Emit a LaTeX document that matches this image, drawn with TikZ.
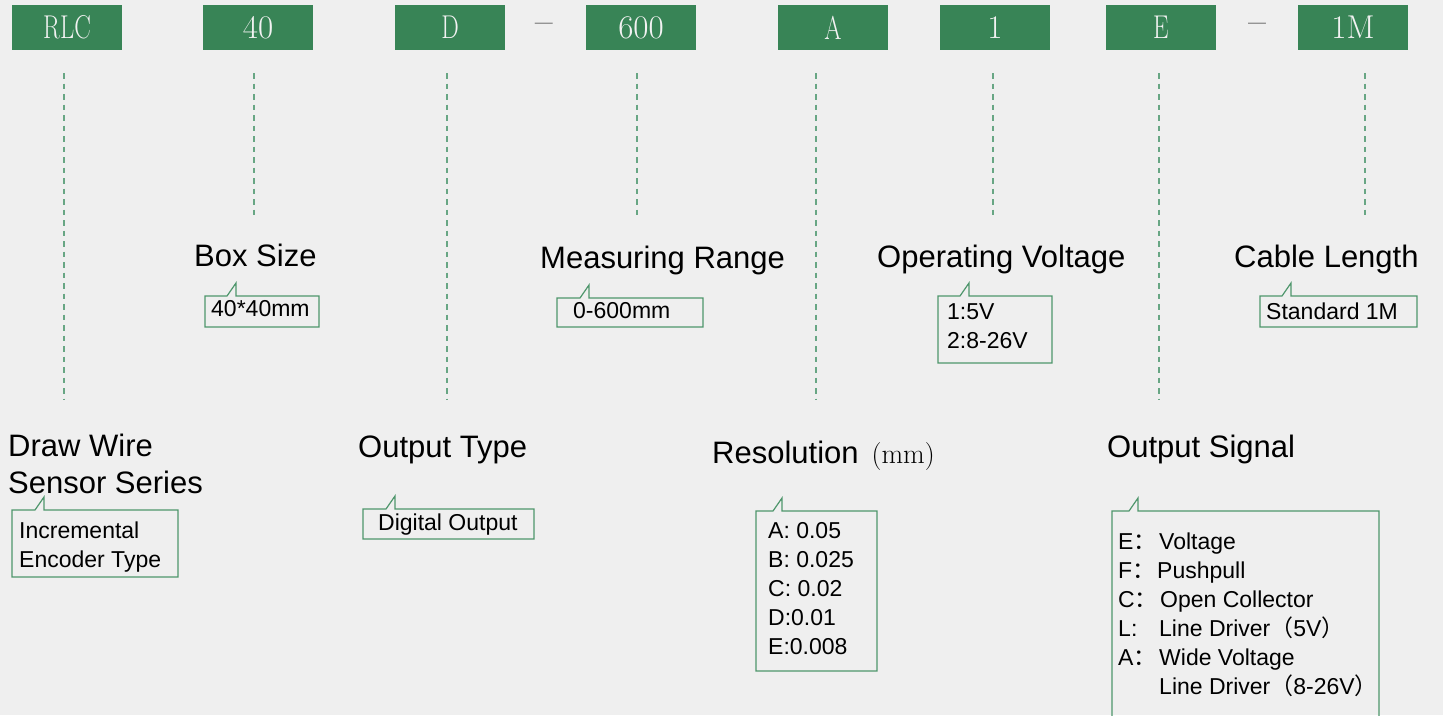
\documentclass[tikz,border=0pt]{standalone}
\usepackage{fontspec}
\usepackage{graphicx}
\newfontfamily\arial{Liberation Sans}
\newfontfamily\cjk{Noto Sans CJK SC}

\definecolor{pagebg}{RGB}{239,239,239}
\definecolor{codegreen}{RGB}{56,132,86}
\definecolor{guidegreen}{RGB}{104,166,132}
\definecolor{taggreen}{RGB}{78,150,108}
\definecolor{codetext}{RGB}{242,242,242}
\definecolor{dashgray}{RGB}{120,120,120}

% narrow the letters of a code, digits keep their width
\newcommand{\codelabel}[2][0.75]{\scalebox{#1}[1]{#2}}

\tikzset{
    codebox/.style={fill=codegreen, minimum width=110, minimum height=45, inner sep=0,
        text=codetext, font=\rmfamily\fontsize{33}{33}\selectfont},
    sepdash/.style={inner sep=0, text=dashgray, font=\rmfamily\bfseries\fontsize{32}{32}\selectfont},
    guide/.style={guidegreen, line width=1.6pt, dash pattern=on 5.5pt off 5pt},
    title/.style={anchor=base west, inner sep=0, align=left, text=black,
        font=\arial\fontsize{31}{37}\selectfont},
    tagtext/.style={anchor=base west, inner sep=0, align=left, text=black,
        font=\arial\fontsize{23}{29}\selectfont},
    tagline/.style={taggreen, line width=1.2pt, line join=miter}
}

% outline of a label box: left, top, right, bottom, x of the notch
\newcommand{\tagoutline}[5]{%
    \draw[tagline] (#5,#2) -- ++(9,-13) -- ++(0,13) -- (#3,#2) -- (#3,#4) -- (#1,#4) -- (#1,#2) -- cycle;}

\begin{document}
\begin{tikzpicture}[x=1pt, y=-1pt]
    \clip (0,0) rectangle (1443,715);
    \fill[pagebg] (0,0) rectangle (1443,715);

    % Draw the code boxes
    \node[codebox] (rlc) at (67,27.5) {\codelabel{RLC}};
    \node[codebox] (size) at (258,27.5) {\codelabel[1]{40}};
    \node[codebox] (otype) at (450,27.5) {\codelabel{D}};
    \node[sepdash] (dashA) at (544,28) {–};
    \node[codebox] (range) at (641,27.5) {\codelabel[1]{600}};
    \node[codebox] (res) at (833,27.5) {\codelabel{A}};
    \node[codebox] (volt) at (995,27.5) {\codelabel[1]{1}};
    \node[codebox] (signal) at (1161,27.5) {\codelabel{E}};
    \node[sepdash] (dashB) at (1257,28) {–};
    \node[codebox] (cable) at (1353,27.5) {\codelabel[1]{1M}};

    % Draw the guide lines going down
    \draw[guide] ([shift={(-3,23)}]rlc.south) -- ++(0,327);
    \draw[guide] ([shift={(-4,23)}]size.south) -- ++(0,142);
    \draw[guide] ([shift={(-3,23)}]otype.south) -- ++(0,327);
    \draw[guide] ([shift={(-4,23)}]range.south) -- ++(0,142);
    \draw[guide] ([shift={(-17,23)}]res.south) -- ++(0,327);
    \draw[guide] ([shift={(-2,23)}]volt.south) -- ++(0,142);
    \draw[guide] ([shift={(-2,23)}]signal.south) -- ++(0,327);
    \draw[guide] ([shift={(12,23)}]cable.south) -- ++(0,142);

    % Upper row of labels (multi-line nodes sit on their last line)
    \node[title] (sizeT) at (194,266) {Box Size};
    \tagoutline{205}{296}{319}{327}{227}
    \node[tagtext] (sizeV) at (211,316) {40*40mm};

    \node[title] (rangeT) at (540,268) {Measuring Range};
    \tagoutline{557}{298}{703}{327}{580}
    \node[tagtext] (rangeV) at (573,318) {0-600mm};

    \node[title] (voltT) at (877,267) {Operating Voltage};
    \tagoutline{938}{296}{1052}{363}{960}
    \node[tagtext] (voltV) at (947,348) {1:5V\\2:8-26V};

    \node[title] (cableT) at (1234,267) {Cable Length};
    \tagoutline{1260}{296}{1417}{327}{1282}
    \node[tagtext] (cableV) at (1266,319) {Standard 1M};

    % Lower row of labels
    \node[title] (rlcT) at (8,493) {Draw Wire\\Sensor Series};
    \tagoutline{12}{510}{178}{577}{35}
    \node[tagtext] (rlcV) at (19,567) {Incremental\\Encoder Type};

    \node[title] (otypeT) at (358,457) {Output Type};
    \tagoutline{363}{509}{534}{539}{386}
    \node[tagtext] (otypeV) at (378,530) {Digital Output};

    \node[title] (resT) at (712,463) {Resolution\hspace{13pt}{\rmfamily\fontsize{28}{28}\selectfont(mm)}};
    \tagoutline{756}{511}{877}{671}{773}
    \node[tagtext] (resV) at (768,654) {A: 0.05\\B: 0.025\\C: 0.02\\D:0.01\\E:0.008};

    \node[title] (signalT) at (1107,457) {Output Signal};
    \tagoutline{1112}{511}{1379}{740}{1129}
    \node[tagtext] (signalV) at (1118,694) {%
        \makebox[41pt][l]{E{\cjk ：}}Voltage\\
        \makebox[39pt][l]{F{\cjk ：}}Pushpull\\
        \makebox[42pt][l]{C{\cjk ：}}Open Collector\\
        \makebox[41pt][l]{L:}Line Driver{\cjk （}5V{\cjk ）}\\
        \makebox[41pt][l]{A{\cjk ：}}Wide Voltage\\
        \hspace*{41pt}Line Driver{\cjk （}8-26V{\cjk ）}};
\end{tikzpicture}
\end{document}
